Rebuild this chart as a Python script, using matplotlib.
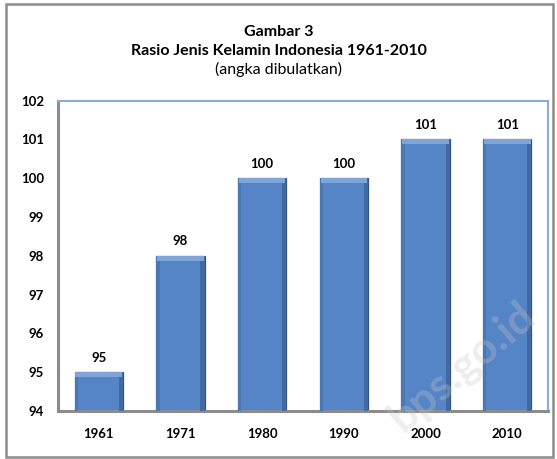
import numpy as np
import matplotlib.pyplot as plt
from matplotlib.patches import Rectangle

# data
years = ["1961", "1971", "1980", "1990", "2000", "2010"]
ratio = [95, 98, 100, 100, 101, 101]
ymin, ymax = 94, 102

plt.rcParams['font.family'] = ['Lato', 'DejaVu Sans']

fig = plt.figure(figsize=(5.57, 4.59), dpi=100)
ax = fig.add_axes([0.104, 0.1046, 0.880, 0.676])

x = np.arange(len(years))
vals = np.array(ratio, dtype=float)
w = 0.59

# bars: body, soft side shading, light top bevel
ax.bar(x, vals - ymin, bottom=ymin, width=w, color="#5585C6",
       edgecolor="#34547E", linewidth=0.9, zorder=2)
ax.bar(x + w / 2 - 0.025, vals - ymin, bottom=ymin, width=0.05,
       color="#426A9E", linewidth=0, zorder=3)
ax.bar(x - w / 2 + 0.02, vals - ymin, bottom=ymin, width=0.04,
       color="#4B77B2", linewidth=0, zorder=3)
ax.bar(x, 0.12, bottom=vals - 0.12, width=w - 0.02, color="#7EA4D8",
       linewidth=0, zorder=4)

for xi, v in zip(x, vals):
    ax.text(xi, v + 0.22, f"{int(v)}", ha="center", va="bottom",
            fontsize=9.5, fontweight="bold", color="black")

ax.set_ylim(ymin, ymax)
ax.set_xlim(-0.5, len(years) - 0.5)
ax.set_yticks(range(ymin, ymax + 1))
ax.set_xticks(x)
ax.set_xticklabels(years)
ax.tick_params(axis="both", length=0, labelsize=9.5)
ax.tick_params(axis="y", pad=10)
ax.tick_params(axis="x", pad=12)
for lab in ax.get_xticklabels() + ax.get_yticklabels():
    lab.set_fontweight("bold")

for s in ["left", "bottom"]:
    ax.spines[s].set_color("#8C8C8C")
    ax.spines[s].set_linewidth(2.2)
for s in ["top", "right"]:
    ax.spines[s].set_color("#8EAADB")
    ax.spines[s].set_linewidth(1.5)

# titles
fig.text(0.5, 0.930, "Gambar 3", ha="center", va="center",
         fontsize=11.5, fontweight="bold")
fig.text(0.5, 0.889, "Rasio Jenis Kelamin Indonesia 1961-2010", ha="center",
         va="center", fontsize=11.5, fontweight="bold")
fig.text(0.5, 0.848, "(angka dibulatkan)", ha="center", va="center",
         fontsize=11.5)

# watermark
fig.text(0.83, 0.20, "bps.go.id", ha="center", va="center", fontsize=32,
         fontweight="bold", rotation=40, color="#c8c8c8", alpha=0.3)

# outer frame
fig.patches.append(Rectangle((0.011, 0.004), 0.982, 0.988,
                             transform=fig.transFigure, fill=False,
                             edgecolor="#8C8C8C", linewidth=1.8))

fig.savefig("out.png", dpi=100)
